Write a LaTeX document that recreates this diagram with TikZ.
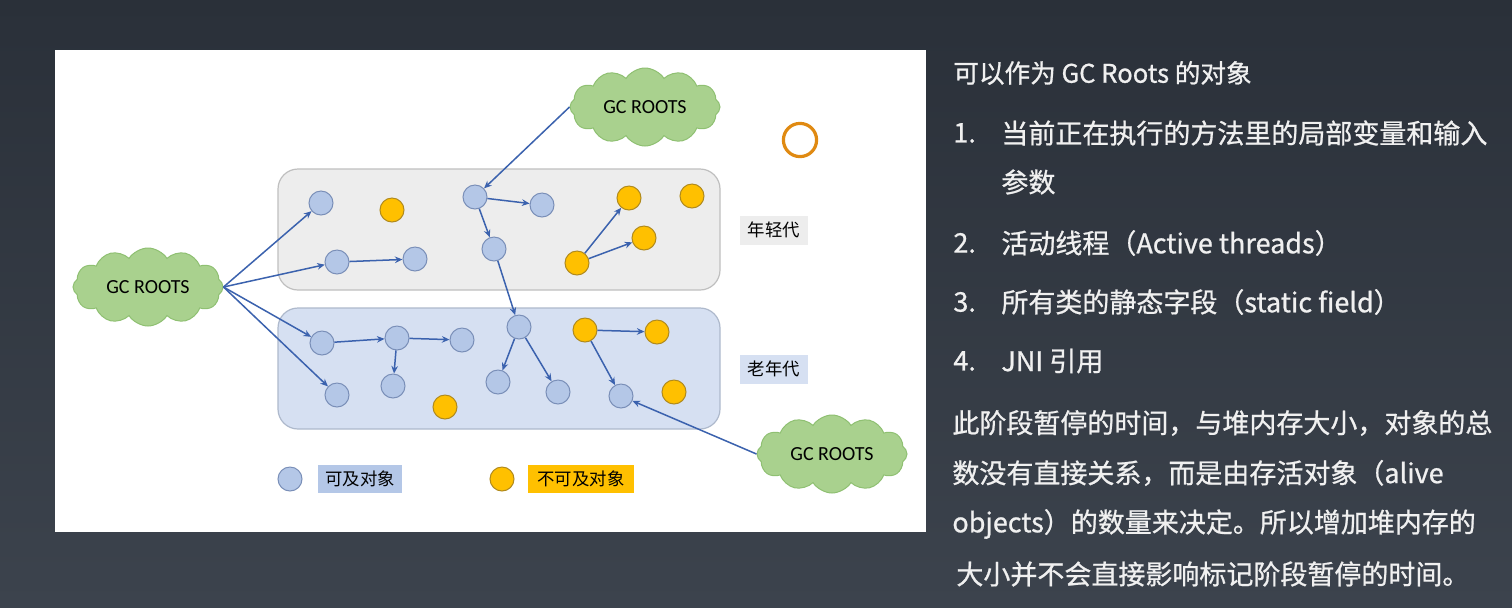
\documentclass[tikz,border=0pt]{standalone}
\usepackage{fontspec}
\setmainfont{Carlito}
\newfontfamily\cjk{Noto Sans CJK SC}
\newfontfamily\cjkm[FakeBold=0.8]{Noto Sans CJK SC}
\usetikzlibrary{arrows.meta,shapes.symbols,positioning}

\definecolor{bgtop}{HTML}{2A3039}
\definecolor{bgbot}{HTML}{3C434D}
\definecolor{youngfill}{HTML}{EDEDED}
\definecolor{youngdraw}{HTML}{BFBFBF}
\definecolor{oldfill}{HTML}{D6E0F2}
\definecolor{olddraw}{HTML}{AEB9CC}
\definecolor{reachfill}{HTML}{B4C7E7}
\definecolor{reachdraw}{HTML}{7A8FB8}
\definecolor{lostfill}{HTML}{FFC000}
\definecolor{lostdraw}{HTML}{B08A1E}
\definecolor{linkcol}{HTML}{3B62AE}
\definecolor{cloudfill}{HTML}{A9D18E}
\definecolor{clouddraw}{HTML}{8FC072}
\definecolor{ringcol}{HTML}{E08A12}
\definecolor{txtcol}{HTML}{F0F0F0}

\tikzset{
  reach/.style={circle, draw=reachdraw, fill=reachfill, line width=0.5pt, minimum size=12pt, inner sep=0pt},
  lost/.style={circle, draw=lostdraw, fill=lostfill, line width=0.5pt, minimum size=12pt, inner sep=0pt},
  link/.style={draw=linkcol, line width=0.75pt, -{Stealth[length=3.8pt,width=3.3pt]}},
  root/.style={cloud, cloud puffs=12, cloud puff arc=115, aspect=2, draw=clouddraw, fill=cloudfill,
    line width=0.5pt, minimum width=75pt, minimum height=39pt, inner sep=0pt, font=\fontsize{10}{12}\selectfont},
  genlabel/.style={font=\cjk\fontsize{8.7}{10}\selectfont, minimum width=34pt, minimum height=14.5pt, inner sep=0pt},
  keylabel/.style={font=\cjk\fontsize{8.7}{10}\selectfont, minimum height=14pt, inner sep=0pt},
  rtext/.style={anchor=west, inner sep=0pt, text=txtcol, font=\cjkm\fontsize{13.5}{16}\selectfont},
}

\begin{document}
\begin{tikzpicture}[x=0.5pt,y=-0.5pt]
    % 背景
    \shade[top color=bgtop, bottom color=bgbot](0,0)rectangle(1512,607);
    \useasboundingbox(0,0)rectangle(1512,607);
    \path[fill=white](55,50)rectangle(926,532);

    % 年轻代 / 老年代
    \path[draw=youngdraw, fill=youngfill, line width=0.6pt, rounded corners=10pt](278,169)rectangle(720,290);
    \path[draw=olddraw, fill=oldfill, line width=0.6pt, rounded corners=10pt](278,308)rectangle(720,429);
    \node[genlabel, fill=youngfill](young)at(774,230){年轻代};
    \node[genlabel, fill=oldfill](old)at(774,369){老年代};

    % GC ROOTS
    \node[root](rtop)at(645,107){GC ROOTS};
    \node[root](rleft)at(148,287){GC ROOTS};
    \node[root](rright)at(832,454){GC ROOTS};
    \draw[ringcol, line width=1.6pt](800,140)circle(8.3pt);

    % 年轻代の对象
    \node[reach](y1)at(321,203){};
    \node[lost](y2)at(392,210){};
    \node[reach](y3)at(337,262){};
    \node[reach](y4)at(415,259){};
    \node[reach](y5)at(475,197){};
    \node[reach](y6)at(542,205){};
    \node[reach](y7)at(494,249){};
    \node[lost](y8)at(577,263){};
    \node[lost](y9)at(629,198){};
    \node[lost](y10)at(644,238){};
    \node[lost](y11)at(692,196){};

    % 老年代の对象
    \node[reach](o1)at(322,343){};
    \node[reach](o2)at(397,338){};
    \node[reach](o3)at(462,340){};
    \node[reach](o4)at(393,386){};
    \node[reach](o5)at(337,395){};
    \node[lost](o6)at(445,407){};
    \node[reach](o7)at(519,327){};
    \node[reach](o8)at(498,382){};
    \node[reach](o9)at(558,392){};
    \node[lost](o10)at(585,330){};
    \node[lost](o11)at(657,332){};
    \node[reach](o12)at(621,396){};
    \node[lost](o13)at(674,392){};

    % 引用
    \path[link](rleft.east)to(y1);
    \path[link](rleft.east)to(y3);
    \path[link](rleft.east)to(o1);
    \path[link](rleft.east)to(o5);
    \path[link](rtop.west)to(y5);
    \path[link](rright.west)to(o12);
    \path[link](y3)to(y4);
    \path[link](y5)to(y6);
    \path[link](y5)to(y7);
    \path[link](y7)to(o7);
    \path[link](y8)to(y9);
    \path[link](y8)to(y10);
    \path[link](o1)to(o2);
    \path[link](o2)to(o3);
    \path[link](o2)to(o4);
    \path[link](o7)to(o8);
    \path[link](o7)to(o9);
    \path[link](o10)to(o11);
    \path[link](o10)to(o12);

    % 凡例
    \node[reach](kreach)at(290,479){};
    \node[keylabel, fill=reachfill, minimum width=42pt](kreachtxt)at(360,479){可及对象};
    \node[lost](klost)at(502,479){};
    \node[keylabel, fill=lostfill, minimum width=53pt](klosttxt)at(581,479){不可及对象};

    % 右侧の说明
    \node[rtext, font=\cjkm\fontsize{12.8}{16}\selectfont](title)at(953,73){可以作为 GC Roots 的对象};
    \node[rtext](n1)at(953,133){1.};
    \node[rtext](t1)at(1001,133){当前正在执行的方法里的局部变量和输入};
    \node[rtext](t1b)at(1001,182){参数};
    \node[rtext](n2)at(953,243){2.};
    \node[rtext](t2)at(1001,243){活动线程（Active threads）};
    \node[rtext](n3)at(953,302){3.};
    \node[rtext](t3)at(1001,302){所有类的静态字段（static field）};
    \node[rtext](n4)at(953,361){4.};
    \node[rtext](t4)at(1001,361){JNI 引用};
    \node[rtext](p1)at(952,423){此阶段暂停的时间，与堆内存大小，对象的总};
    \node[rtext](p2)at(952,473){数没有直接关系，而是由存活对象（alive};
    \node[rtext](p3)at(952,524){objects）的数量来决定。所以增加堆内存的};
    \node[rtext](p4)at(956,574){大小并不会直接影响标记阶段暂停的时间。};
\end{tikzpicture}
\end{document}
